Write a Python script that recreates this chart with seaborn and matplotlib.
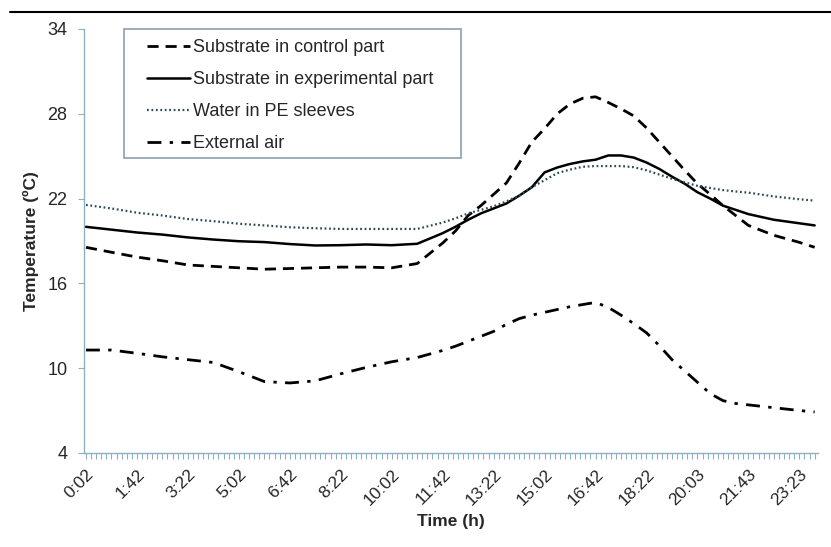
import numpy as np
import pandas as pd
import matplotlib
matplotlib.use("Agg")
import matplotlib.pyplot as plt
from matplotlib.lines import Line2D
from matplotlib.patches import Rectangle
import seaborn as sns

# sample number (10-min logging interval, sample 0 = 0:02)
sample_idx = [0, 5, 10, 15, 20, 25, 30, 35, 40, 45, 50, 55, 60, 65,
              70, 72.5, 75, 77.5, 80, 82.5, 85, 87.5, 90, 92.5, 95, 97.5,
              100, 102.5, 105, 107.5, 110, 112.5, 115, 117.5, 120, 122.5,
              125, 127.5, 130, 135, 140, 143]

control = [18.55, 18.2, 17.86, 17.6, 17.3, 17.2, 17.1, 17.0, 17.05, 17.1,
           17.15, 17.15, 17.1, 17.4,
           18.85, 19.7, 20.8, 21.5, 22.3, 23.1, 24.5, 26.0, 26.95, 28.0, 28.7, 29.1,
           29.2, 28.8, 28.35, 27.85, 27.0, 26.0, 25.0, 24.0, 23.05, 22.3,
           21.5, 20.8, 20.1, 19.4, 18.9, 18.55]
experimental = [20.0, 19.8, 19.6, 19.45, 19.25, 19.1, 18.98, 18.92, 18.78, 18.68,
                18.7, 18.75, 18.7, 18.8,
                19.55, 20.0, 20.5, 20.95, 21.3, 21.65, 22.2, 22.8, 23.85, 24.2, 24.45, 24.63,
                24.75, 25.05, 25.05, 24.9, 24.55, 24.1, 23.55, 23.05, 22.45, 22.0,
                21.5, 21.2, 20.9, 20.5, 20.25, 20.1]
water = [21.55, 21.3, 21.0, 20.8, 20.55, 20.4, 20.22, 20.1, 19.97, 19.9,
         19.85, 19.85, 19.85, 19.85,
         20.3, 20.6, 20.95, 21.2, 21.45, 21.8, 22.2, 22.8, 23.3, 23.8, 24.05, 24.25,
         24.3, 24.3, 24.3, 24.22, 24.0, 23.7, 23.4, 23.15, 22.9, 22.75,
         22.6, 22.5, 22.42, 22.15, 21.95, 21.85]
external = [11.28, 11.28, 11.05, 10.8, 10.6, 10.4, 9.75, 9.05, 8.95, 9.1,
            9.6, 10.05, 10.45, 10.75,
            11.25, 11.55, 11.9, 12.25, 12.6, 13.1, 13.5, 13.75, 13.95, 14.15, 14.35, 14.5,
            14.65, 14.3, 13.75, 13.15, 12.5, 11.6, 10.6, 9.8, 9.0, 8.2,
            7.7, 7.5, 7.4, 7.2, 7.0, 6.9]

tick_labels = ["0:02", "1:42", "3:22", "5:02", "6:42", "8:22", "10:02", "11:42",
               "13:22", "15:02", "16:42", "18:22", "20:03", "21:43", "23:23"]
n_samples = 144

sns.set_style("white")
plt.rcParams['font.family'] = ['Liberation Sans', 'DejaVu Sans']

axis_col = '#8fb0c4'

fig = plt.figure(figsize=(8.31, 5.47), dpi=100)
ax = fig.add_axes([0.101, 0.172, 0.883, 0.775])

sns.lineplot(x=sample_idx, y=control, ax=ax, color='black', lw=2.0,
             linestyle=(0, (4, 2.5)), label='Substrate in control part')
sns.lineplot(x=sample_idx, y=experimental, ax=ax, color='black', lw=1.8,
             linestyle='-', label='Substrate in experimental part')
sns.lineplot(x=sample_idx, y=water, ax=ax, color='#2b4a58', lw=1.6,
             linestyle=(0, (0.8, 1.2)), label='Water in PE sleeves')
sns.lineplot(x=sample_idx, y=external, ax=ax, color='black', lw=2.0,
             linestyle=(0, (5, 3, 1.2, 3)), label='External air')

ax.set_xlim(-0.4, 143.6)
ax.set_ylim(4, 34)
ax.set_yticks([4, 10, 16, 22, 28, 34])
ax.set_xticks(np.arange(0, 141, 10))
ax.set_xticklabels(tick_labels, rotation=45, ha='right', rotation_mode='anchor')
ax.set_xticks(np.arange(n_samples), minor=True)

for side in ['top', 'right']:
    ax.spines[side].set_visible(False)
for side in ['left', 'bottom']:
    ax.spines[side].set_color(axis_col)
    ax.spines[side].set_linewidth(1.0)

ax.tick_params(axis='x', which='both', direction='out', length=4, width=0.8,
               color=axis_col, labelsize=12.5, pad=6, bottom=True)
ax.tick_params(axis='y', direction='out', length=4, width=0.8, color=axis_col,
               labelsize=13, pad=8, left=True)

ax.set_xlabel('Time (h)', fontsize=12.5, fontweight='bold', labelpad=4)
ax.set_ylabel('Temperature (ºC)', fontsize=12.5, fontweight='bold', labelpad=6)

# legend content without its own frame, frame drawn separately
leg = ax.legend(loc='upper left', bbox_to_anchor=(147 / 831, 1 - 39 / 547),
                bbox_transform=fig.transFigure, frameon=False,
                fontsize=13, handlelength=2.4, handletextpad=0.15,
                borderpad=0, labelspacing=0.84, borderaxespad=0)
fig.add_artist(Rectangle((124 / 831, 1 - 158 / 547), 337 / 831, 129 / 547,
                         transform=fig.transFigure, fill=False,
                         edgecolor='#8a9fb0', lw=1.2))

# page rule above the chart
fig.add_artist(Line2D([0.012, 1.0], [0.978, 0.978], color='black', lw=1.5,
                      transform=fig.transFigure))

fig.savefig('out.png', dpi=100)
